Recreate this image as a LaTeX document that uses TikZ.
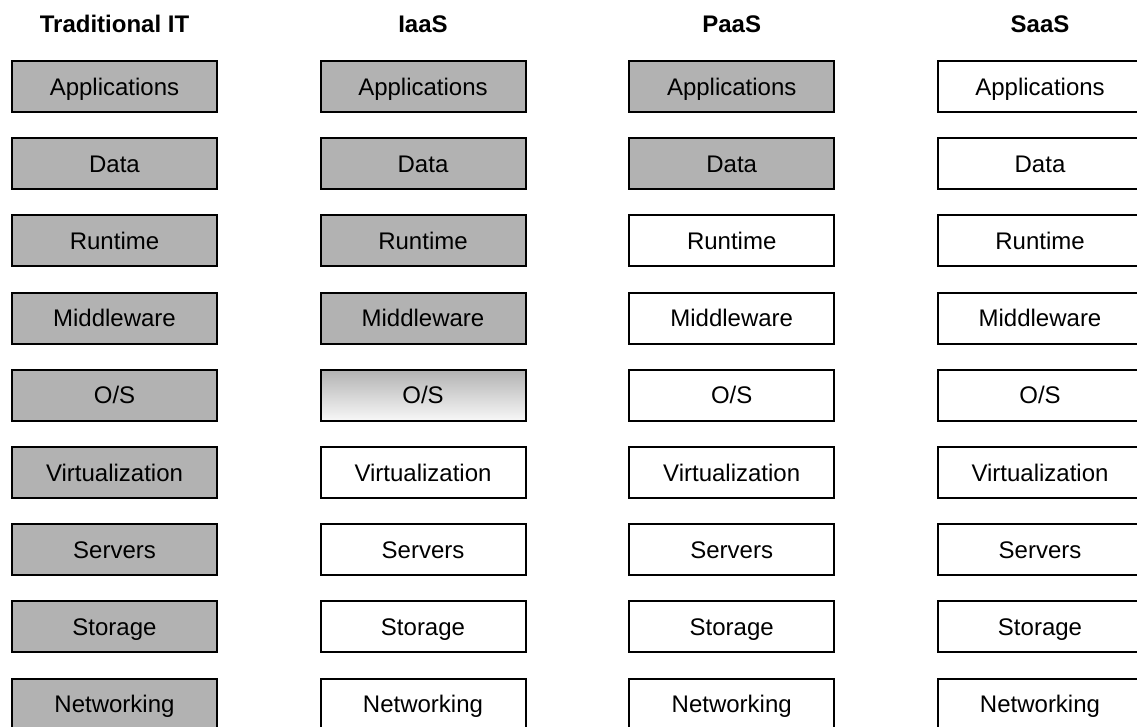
\documentclass[tikz,border=0pt]{standalone}
\usepackage{fontspec}
\setmainfont{Liberation Sans}
\begin{document}
\begin{tikzpicture}[x=1pt,y=-1pt,
  layer/.style={draw=black,line width=2pt,minimum width=205pt,minimum height=51pt,
    inner sep=0pt,text height=17.2pt,text depth=0pt,font=\fontsize{24}{28}\selectfont},
  managed/.style={layer,fill=black!30},
  vendor/.style={layer,fill=white},
  partial/.style={layer,top color=black!30,bottom color=black!3},
  heading/.style={font=\fontsize{24}{28}\selectfont\bfseries,inner sep=0pt,
    text height=17.2pt,text depth=0pt}]
\useasboundingbox (0,0) rectangle (1137,726);
\begin{scope}
\clip (0,0) rectangle (1137,726);
% column headings
\node[heading] (h1) at (114.5,24) {Traditional IT};
\node[heading] (h2) at (423,24) {IaaS};
\node[heading] (h3) at (731.7,24) {PaaS};
\node[heading] (h4) at (1040,24) {SaaS};
% stack rows: name, label, style per column
\foreach \r/\lab/\a/\b/\c/\d [count=\i from 0] in {
  app/Applications/managed/managed/managed/vendor,
  data/Data/managed/managed/managed/vendor,
  run/Runtime/managed/managed/vendor/vendor,
  mid/Middleware/managed/managed/vendor/vendor,
  os/O\slash S/managed/partial/vendor/vendor,
  virt/Virtualization/managed/vendor/vendor/vendor,
  srv/Servers/managed/vendor/vendor/vendor,
  sto/Storage/managed/vendor/vendor/vendor,
  net/Networking/managed/vendor/vendor/vendor}{
  \pgfmathsetmacro{\yy}{86.5+77.2*\i}
  \node[\a] (\r-1) at (114.5,\yy) {\lab};
  \node[\b] (\r-2) at (423,\yy) {\lab};
  \node[\c] (\r-3) at (731.7,\yy) {\lab};
  \node[\d] (\r-4) at (1040,\yy) {\lab};
}
\end{scope}
\end{tikzpicture}
\end{document}
